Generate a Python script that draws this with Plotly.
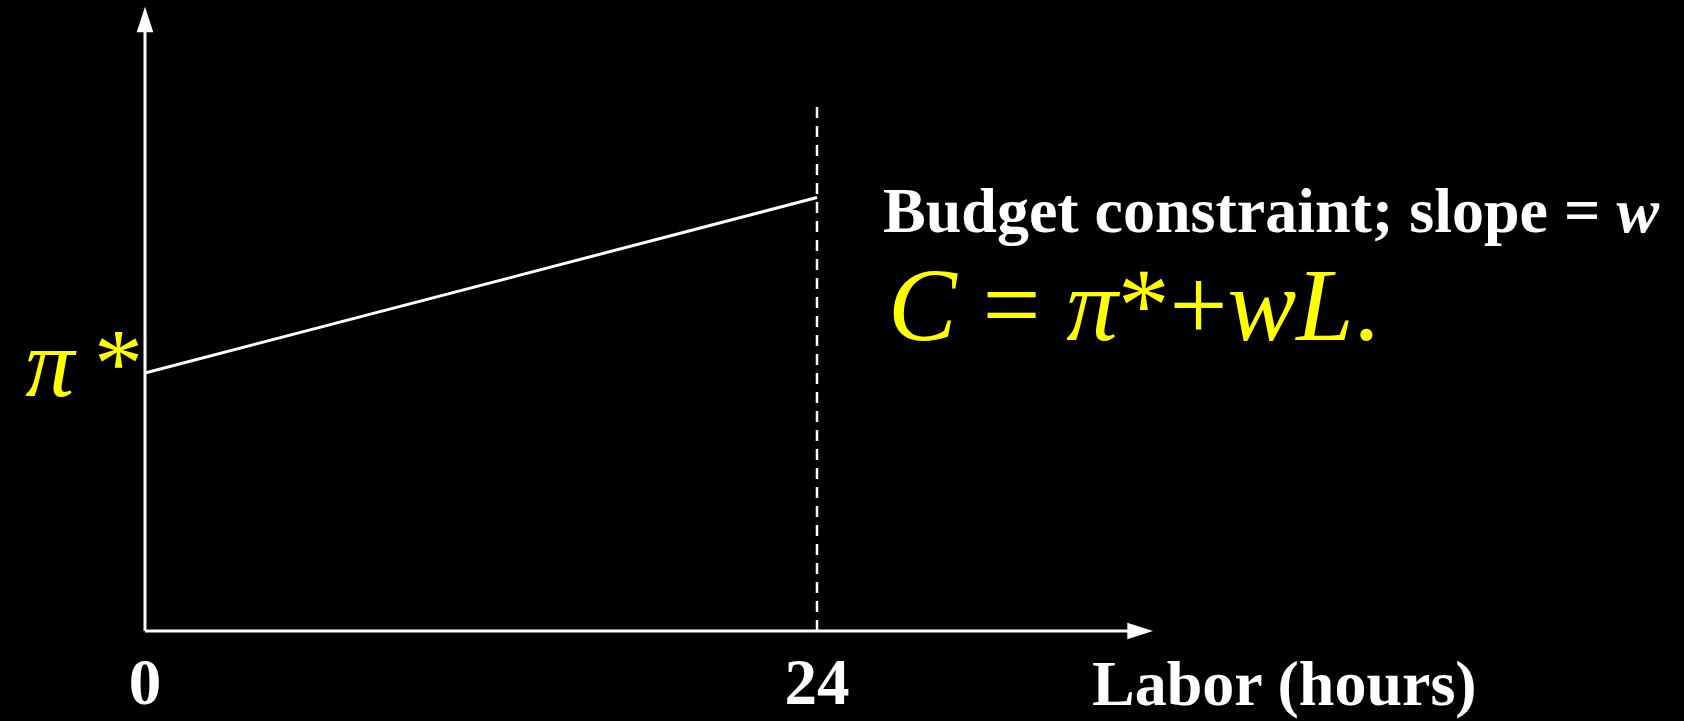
import plotly.graph_objects as go

# ---- data ----
labor_hours = [0, 24]            # L
consumption = [100, 168]         # C = pi* + wL
pi_star = 100
max_hours = 24
guide_top = 206                  # top of dashed 24-hour guide
x_axis_end = 36
y_axis_end = 242
x_tick_vals = [0, 24]
x_tick_text = ["0", "24"]

W, H = 1684, 721
X0_PX, Y0_PX = 145, 631          # origin position in pixels
PX_PER_X, PX_PER_Y = 28.0, 2.58

x_range = [-X0_PX / PX_PER_X, (W - X0_PX) / PX_PER_X]
y_range = [-(H - Y0_PX) / PX_PER_Y, Y0_PX / PX_PER_Y]

SERIF = "Liberation Serif, Times New Roman, serif"

fig = go.Figure()

# dashed 24-hour guide
fig.add_trace(go.Scatter(
    x=[max_hours, max_hours], y=[0, guide_top], mode="lines",
    line=dict(color="white", width=2.5, dash="11px,8px"),
    hoverinfo="skip", showlegend=False))

# axes
fig.add_trace(go.Scatter(
    x=[0, 0, None, 0, x_axis_end - 0.5], y=[y_axis_end - 2, 0, None, 0, 0],
    mode="lines", line=dict(color="white", width=3),
    hoverinfo="skip", showlegend=False))
fig.add_trace(go.Scatter(
    x=[0, x_axis_end], y=[y_axis_end, 0], mode="markers",
    marker=dict(symbol="arrow", size=27, angle=[0, 90], color="white",
                line=dict(width=0)),
    hoverinfo="skip", showlegend=False))

# budget constraint
fig.add_trace(go.Scatter(
    x=labor_hours, y=consumption, mode="lines",
    line=dict(color="white", width=3),
    hoverinfo="skip", showlegend=False))

# text labels
fig.add_annotation(x=881 / W, y=1 - 210 / H, xref="paper", yref="paper",
                   xanchor="left", yanchor="middle", showarrow=False,
                   text="Budget constraint; slope = <i>w</i>",
                   font=dict(family=SERIF, size=64, color="white", weight="bold"))
fig.add_annotation(x=886 / W, y=1 - 305 / H, xref="paper", yref="paper",
                   xanchor="left", yanchor="middle", showarrow=False,
                   text="<i>C</i> = <i>π</i>*+<i>wL</i>.",
                   font=dict(family=SERIF, size=103, color="#ffff00"))
fig.add_annotation(x=1090 / W, y=1 - 683 / H, xref="paper", yref="paper",
                   xanchor="left", yanchor="middle", showarrow=False,
                   text="Labor (hours)",
                   font=dict(family=SERIF, size=64, color="white", weight="bold"))

fig.update_layout(
    width=W, height=H,
    margin=dict(l=0, r=0, t=0, b=0, autoexpand=False),
    paper_bgcolor="black", plot_bgcolor="black",
    showlegend=False,
    xaxis=dict(range=x_range, showgrid=False, zeroline=False, showline=False,
               anchor="free", position=(H - Y0_PX) / H, automargin=False,
               tickmode="array", tickvals=x_tick_vals, ticktext=x_tick_text,
               ticks="", ticklabelstandoff=7,
               tickfont=dict(family=SERIF, size=65, color="white", weight="bold")),
    yaxis=dict(range=y_range, showgrid=False, zeroline=False, showline=False,
               anchor="free", position=X0_PX / W, automargin=False,
               tickmode="array", tickvals=[pi_star], ticktext=["<i>π</i>\u2009*"],
               ticks="", ticklabelstandoff=2, ticklabelshift=-11,
               tickfont=dict(family=SERIF, size=98, color="#ffff00")),
)

fig.write_html(
    "out.html",
    config={"displayModeBar": False},
    post_script="document.body.style.margin='0';document.body.style.background='black';",
)
